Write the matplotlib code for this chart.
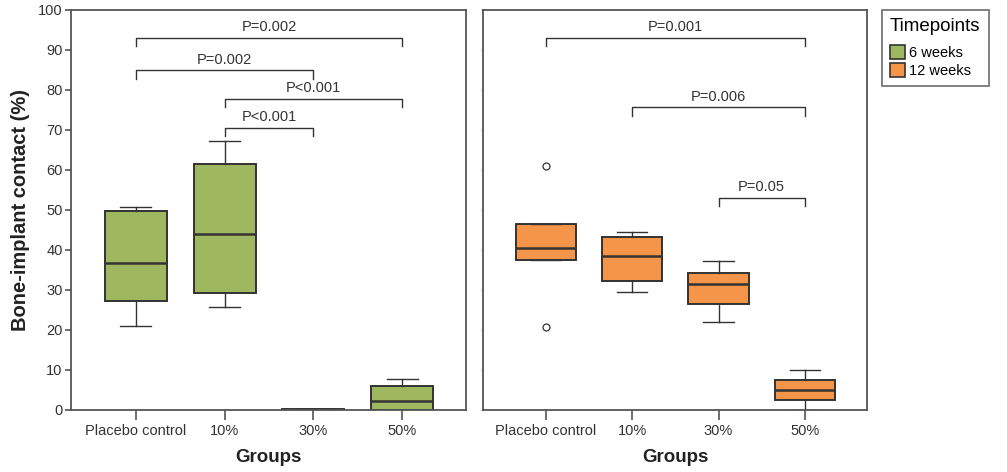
import matplotlib
matplotlib.use("Agg")
import matplotlib.pyplot as plt
from matplotlib.patches import Patch

plt.rcParams['font.family'] = ['Liberation Sans', 'DejaVu Sans']

groups = ["Placebo control", "10%", "30%", "50%"]

# box stats: whislo, q1, med, q3, whishi
week6_stats = [
    [20.9, 27.3, 36.7, 49.8, 50.8],
    [25.8, 29.2, 43.9, 61.4, 67.3],
    [0.0, 0.0, 0.1, 0.3, 0.3],
    [0.0, 0.0, 2.3, 6.1, 7.8],
]
week12_stats = [
    [37.4, 37.4, 40.4, 46.5, 46.5],
    [29.6, 32.3, 38.4, 43.2, 44.5],
    [22.0, 26.6, 31.4, 34.3, 37.3],
    [0.0, 2.4, 4.9, 7.4, 9.9],
]
week12_fliers = [[61.1, 20.8], [], [], []]

# (from, to, bar height, label)
week6_pvals = [
    (0, 3, 93.1, "P=0.002"),
    (0, 2, 84.9, "P=0.002"),
    (1, 3, 77.8, "P<0.001"),
    (1, 2, 70.6, "P<0.001"),
]
week12_pvals = [
    (0, 3, 93.1, "P=0.001"),
    (1, 3, 75.7, "P=0.006"),
    (2, 3, 53.1, "P=0.05"),
]

green = "#9fb75e"
orange = "#f4954a"
edge = "#333333"
frame = "#555555"


def make_stats(rows, fliers=None):
    out = []
    for i, r in enumerate(rows):
        out.append(dict(whislo=r[0], q1=r[1], med=r[2], q3=r[3], whishi=r[4],
                        fliers=(fliers[i] if fliers else [])))
    return out


def draw(ax, stats, color, pvals):
    ax.bxp(stats, positions=range(4), widths=0.7, patch_artist=True,
           boxprops=dict(facecolor=color, edgecolor=edge, linewidth=1.4),
           medianprops=dict(color=edge, linewidth=1.8),
           whiskerprops=dict(color=edge, linewidth=1.0),
           capprops=dict(color=edge, linewidth=1.0),
           flierprops=dict(marker='o', markersize=5, markerfacecolor='white',
                           markeredgecolor=edge, markeredgewidth=0.9))
    for a, b, h, lab in pvals:
        ax.plot([a, a, b, b], [h - 2.1, h, h, h - 2.1], color=edge, lw=1.0)
        ax.text((a + b) / 2, h + 0.9, lab, ha='center', va='bottom',
                fontsize=10.5, color="#333333")
    ax.set_xlim(-0.73, 3.72)
    ax.set_ylim(0, 100)
    ax.set_xticks(range(4))
    ax.set_xticklabels(groups, fontsize=10.5, color="#333333")
    ax.tick_params(axis='x', length=7, width=1.2, color=frame, pad=3)
    ax.set_xlabel("Groups", fontsize=13.5, fontweight='bold', color="#222222",
                  labelpad=8)
    for s in ax.spines.values():
        s.set_color(frame)
        s.set_linewidth(1.3)


fig = plt.figure(figsize=(10.07, 4.72), dpi=100)
ax1 = fig.add_axes([0.0705, 0.1314, 0.3923, 0.8475])
ax2 = fig.add_axes([0.4796, 0.1314, 0.3813, 0.8475])

draw(ax1, make_stats(week6_stats), green, week6_pvals)
draw(ax2, make_stats(week12_stats, week12_fliers), orange, week12_pvals)

ax1.set_yticks(range(0, 101, 10))
ax1.tick_params(axis='y', length=4, width=1.2, color=frame, labelsize=10.5,
                labelcolor="#333333", pad=2)
ax1.set_ylabel("Bone-implant contact (%)", fontsize=14.5, fontweight='bold',
               color="#222222", labelpad=6)

ax2.set_yticks(range(0, 101, 10))
ax2.tick_params(axis='y', length=1.5, width=1.0, color="#aaaaaa", labelleft=False)

handles = [Patch(facecolor=green, edgecolor=edge, linewidth=1.2, label="6 weeks"),
           Patch(facecolor=orange, edgecolor=edge, linewidth=1.2, label="12 weeks")]
leg = fig.legend(handles=handles, title="Timepoints", loc='upper left',
                 bbox_to_anchor=(882 / 1007, 1 - 10 / 472), borderaxespad=0,
                 fontsize=10.5, title_fontsize=13.5, fancybox=False,
                 edgecolor=frame, handlelength=1.0, handleheight=1.1,
                 handletextpad=0.3, labelspacing=0.25, borderpad=0.55,
                 alignment='left')
leg.get_frame().set_linewidth(1.3)
# a bit more room between the title and the entries
leg._legend_box.sep = 7

fig.savefig("out.png", dpi=100)
